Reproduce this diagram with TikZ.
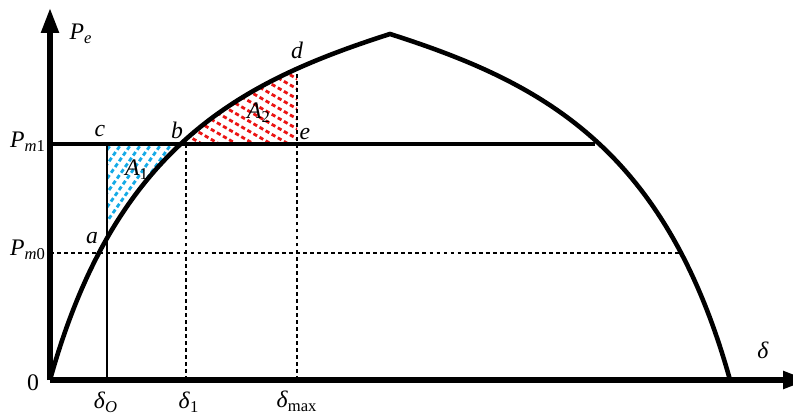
\documentclass[tikz,border=0pt]{standalone}
\usepackage{fontspec}
\setmainfont{Liberation Serif}
\usetikzlibrary{arrows.meta}
\definecolor{hatchblue}{RGB}{20,170,230}
\definecolor{hatchred}{RGB}{235,20,20}
\begin{document}
\begin{tikzpicture}[
    x=0.02cm, y=0.02cm,
    axis/.style={line width=3pt, -{Triangle[length=0.5cm,width=0.34cm]}},
    powercurve/.style={line width=2.6pt},
    level/.style={line width=2.2pt},
    guide/.style={line width=1.4pt, dash pattern=on 2.2pt off 1.8pt},
    hatchA/.style={hatchblue, line width=1.6pt, dash pattern=on 2.4pt off 1.6pt},
    hatchB/.style={hatchred, line width=1.6pt, dash pattern=on 2.4pt off 1.6pt},
    lbl/.style={inner sep=0pt, font=\fontsize{13.5}{15}\selectfont}
    ]
    \useasboundingbox (-50,-35) rectangle (743,380);
    % Points
    \coordinate (O) at (0,0);
    \coordinate (ytop) at (0,372);
    \coordinate (xend) at (758,0);
    \coordinate (peak) at (340,346);
    \coordinate (dend) at (680,0);
    \coordinate (a) at (57,141);
    \coordinate (c) at (57,236);
    \coordinate (b) at (131,236);
    \coordinate (btop) at (136,236);
    \coordinate (e) at (247,236);
    \coordinate (d) at (247,311);
    \coordinate (pm1l) at (0,236);
    \coordinate (pm1r) at (545,236);
    \coordinate (pm0l) at (0,127);
    \coordinate (pm0r) at (631,127);
    \coordinate (d0) at (57,0);
    \coordinate (d1) at (136,0);
    \coordinate (dm) at (247,0);

    % Hatched areas
    \begin{scope}
        \clip (d0) rectangle (btop);
        \clip (O) .. controls (65,234) and (190,298) .. (peak) -- (0,346) -- cycle;
        \foreach \k in {-114,-104,...,136}
            \draw[hatchA] (\k,0) -- ++(55:400);
    \end{scope}
    \begin{scope}
        \clip (100,236) rectangle (d);
        \clip (O) .. controls (65,234) and (190,298) .. (peak) -- (340,0) -- cycle;
        \foreach \k in {236,246,...,416}
            \draw[hatchB] (100,\k) -- ++(-30:200);
    \end{scope}

    % Guide lines
    \draw[guide] (pm0l) -- (pm0r);
    \draw[guide] (d1) -- (btop);
    \draw[guide] (dm) -- (d);
    \draw[line width=0.9pt] (d0) -- (c);
    \draw[level] (pm1l) -- (pm1r);

    % Power curve
    \draw[powercurve] (O) .. controls (65,234) and (190,298) .. (peak)
        .. controls (490,298) and (615,234) .. (dend);

    % Axes
    \draw[axis] (O) -- (ytop);
    \draw[axis] (O) -- (xend);

    % Labels
    \node[lbl] (zero) at (-17,-3) {0};
    \node[lbl] (pe) at (31,346) {\textit{P}\textsubscript{\textit{e}}};
    \node[lbl] (pm1) at (-22,238) {\textit{P}\textsubscript{\textit{m}1}};
    \node[lbl] (pm0) at (-22,130) {\textit{P}\textsubscript{\textit{m}0}};
    \node[lbl] (la) at (42,142) {\textit{a}};
    \node[lbl] (lb) at (127,250) {\textit{b}};
    \node[lbl] (lc) at (50,249) {\textit{c}};
    \node[lbl] (ld) at (247,330) {\textit{d}};
    \node[lbl] (le) at (255,246) {\textit{e}};
    \node[lbl] (A1) at (87,210) {\textit{A}\textsubscript{1}};
    \node[lbl] (A2) at (209,267) {\textit{A}\textsubscript{2}};
    \node[lbl] (del0) at (56,-22) {\textit{δ}\textsubscript{\textit{O}}};
    \node[lbl] (del1) at (139,-22) {\textit{δ}\textsubscript{1}};
    \node[lbl] (delm) at (247,-21) {\textit{δ}\textsubscript{max}};
    \node[lbl] (del) at (713,30) {\textit{δ}};
\end{tikzpicture}
\end{document}
